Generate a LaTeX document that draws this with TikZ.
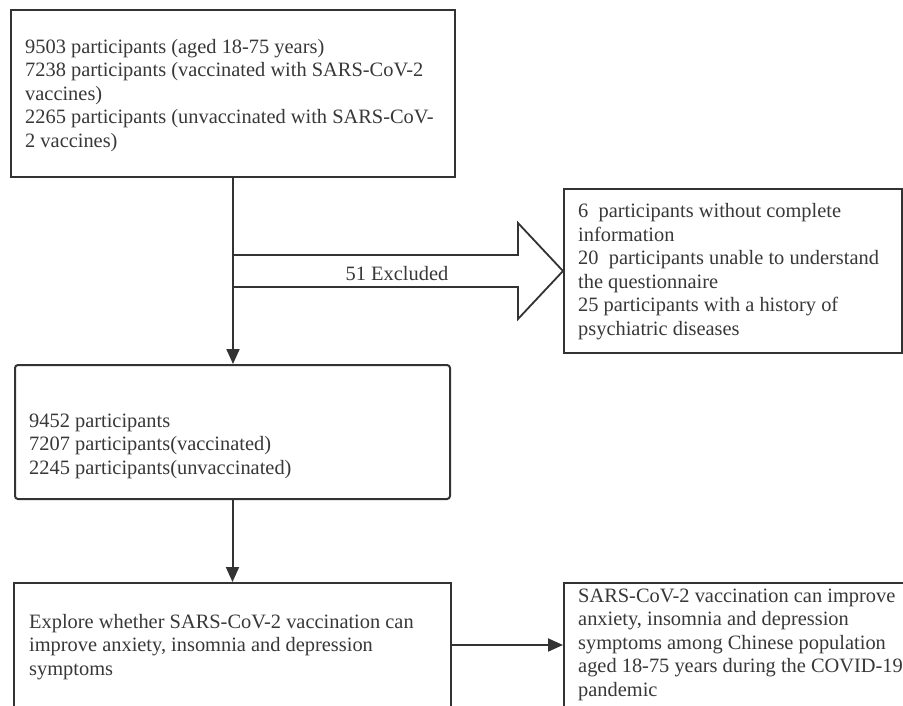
\documentclass[tikz,border=0pt]{standalone}
\usepackage{fontspec}
\setmainfont{Liberation Serif}
\usetikzlibrary{arrows.meta,calc}
\definecolor{ln}{HTML}{333333}
\definecolor{tx}{HTML}{383838}
\begin{document}
\begin{tikzpicture}[x=1pt,y=-1pt,
  box/.style={draw=ln, line width=2pt, fill=white, inner sep=0pt, rectangle},
  txt/.style={text=tx, inner sep=0pt, align=left, anchor=base west, font=\fontsize{20.4}{23.5}\selectfont},
  conn/.style={draw=ln, line width=2pt, -{Triangle[length=15pt,width=13pt]}},
  hollow/.style={draw=ln, line width=1.8pt, fill=white, line join=miter},
]
\useasboundingbox (0,0) rectangle (903,705);
\clip (0,0) rectangle (903,705);
\fill[white] (0,0) rectangle (903,705);

% boxes
\node[box, minimum width=444pt, minimum height=167pt] (b1) at (233,93.5) {};
\node[box, rounded corners=3pt, minimum width=435pt, minimum height=134pt] (b2) at (232.5,432) {};
\node[box, minimum width=338pt, minimum height=164pt] (b3) at (733,271) {};
\node[box, minimum width=437pt, minimum height=124pt] (b4) at (232.5,645) {};
\node[box, minimum width=356pt, minimum height=124pt] (b5) at (742,645) {};

% texts (anchored at the baseline of their last line)
\node[txt] (t1) at (25,147) {9503 participants (aged 18-75 years)\\
7238 participants (vaccinated with SARS-CoV-2\\
vaccines)\\
2265 participants (unvaccinated with SARS-CoV-\\
2 vaccines)};
\node[txt] (t2) at (29,474) {9452 participants\\
7207 participants(vaccinated)\\
2245 participants(unvaccinated)};
\node[txt] (t3) at (578,335) {6~ participants without complete\\
information\\
20~ participants unable to understand\\
the questionnaire\\
25 participants with a history of\\
psychiatric diseases};
\node[txt] (t4) at (29,675) {Explore whether SARS-CoV-2 vaccination can\\
improve anxiety, insomnia and depression\\
symptoms};
\node[txt] (t5) at (578,696) {SARS-CoV-2 vaccination can improve\\
anxiety, insomnia and depression\\
symptoms among Chinese population\\
aged 18-75 years during the COVID-19\\
pandemic};

% hollow exclusion arrow
\coordinate (ex) at (233,271);
\draw[hollow] ($(ex)+(0,-16)$) -- (518,255) -- (518,223) -- (b3.west) -- (518,319) -- (518,287) -- ($(ex)+(0,16)$);
\node[txt, anchor=base] (lab) at (397,280) {51 Excluded};

% connectors
\draw[conn] (b1.south) -- (b1.south |- b2.north);
\draw[conn] (b2.south) -- (b2.south |- b4.north);
\draw[conn] (b4.east) -- (b5.west);
\end{tikzpicture}
\end{document}
